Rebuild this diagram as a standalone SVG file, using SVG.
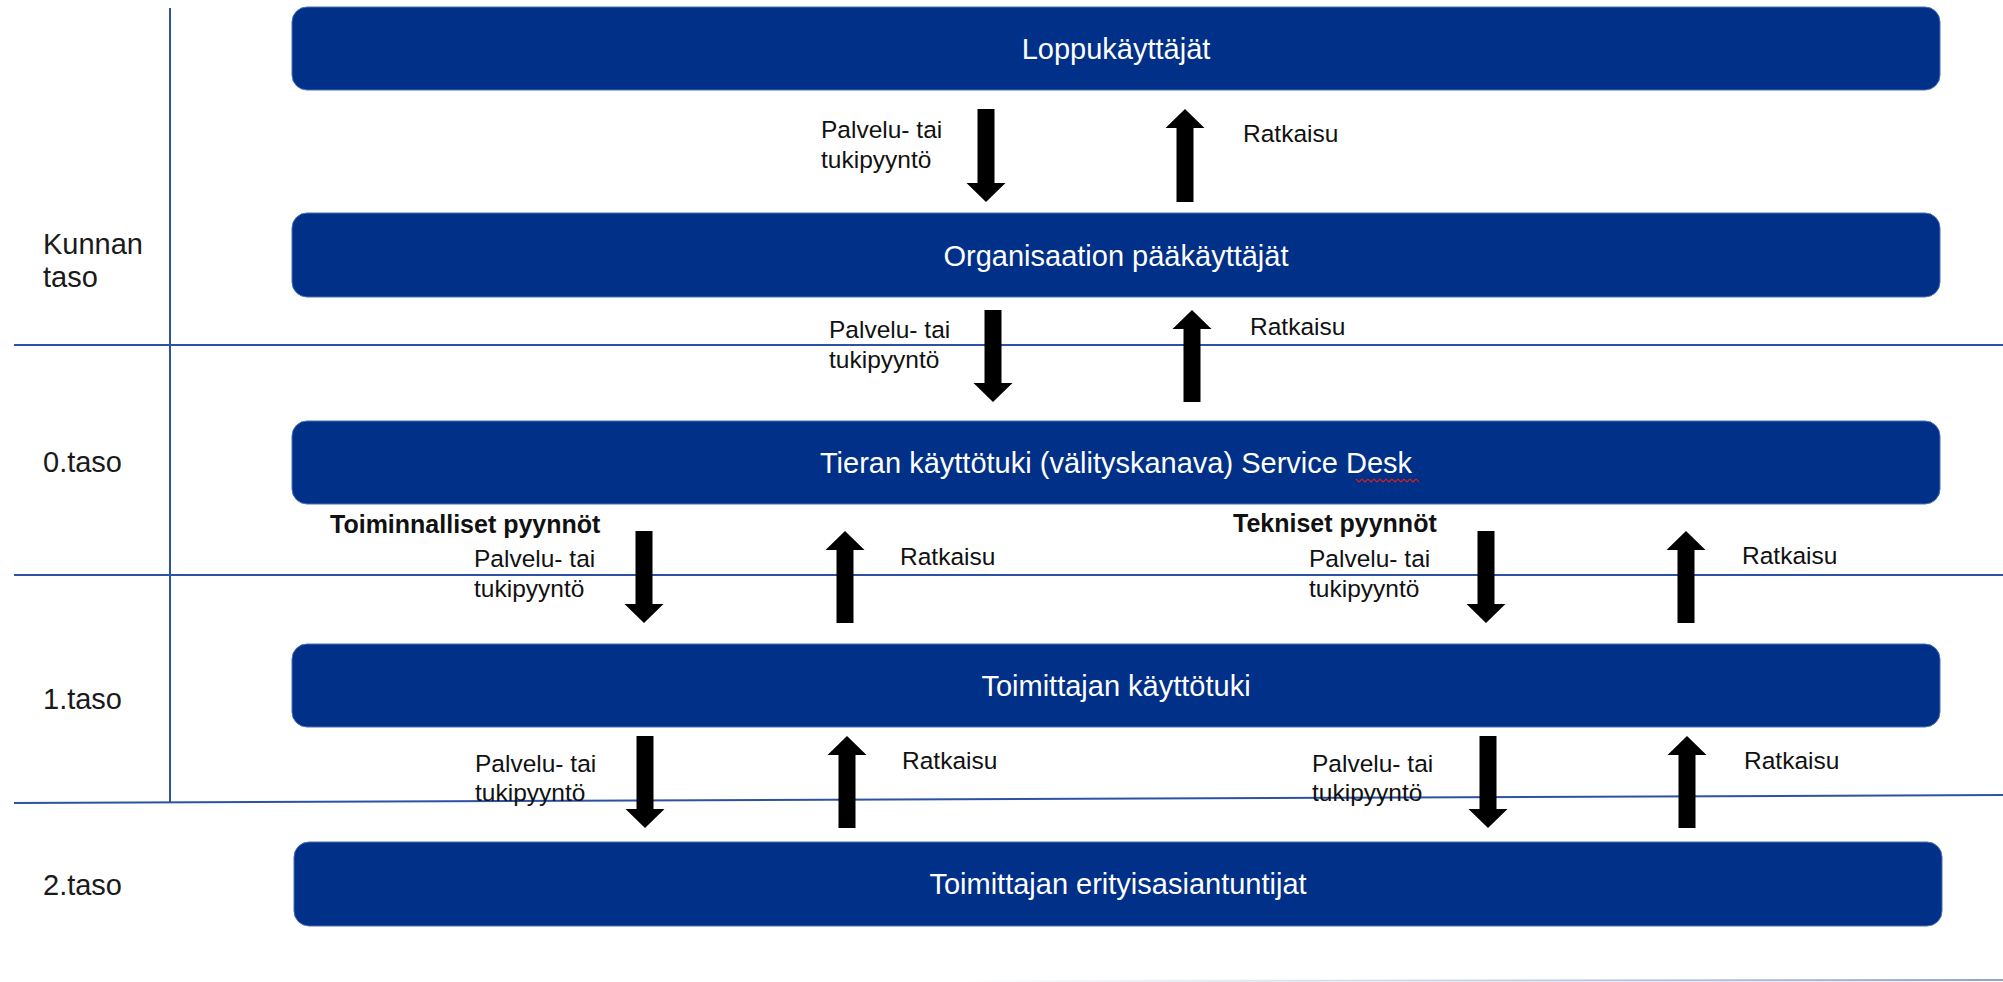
<svg xmlns="http://www.w3.org/2000/svg" width="2003" height="982" viewBox="0 0 2003 982">
<style>
.box{fill:#003087;stroke:#4a6fb5;stroke-width:1}
.bt{font-family:"Liberation Sans",Arial,sans-serif;font-size:29px;fill:#ffffff;text-anchor:middle}
.lv{font-family:"Liberation Sans",Arial,sans-serif;font-size:29px;fill:#1a1a1a}
.lb{font-family:"Liberation Sans",Arial,sans-serif;font-size:24.5px;fill:#111111}
.hd{font-family:"Liberation Sans",Arial,sans-serif;font-size:25px;font-weight:bold;fill:#111111}
.ln{stroke:#2e52a3;stroke-width:2;fill:none}
.arr{fill:#000000}
</style>
<defs>
<linearGradient id="fade" x1="0" y1="0" x2="1" y2="0">
<stop offset="0" stop-color="#ffffff"/>
<stop offset="1" stop-color="#8fa3cc"/>
</linearGradient>
</defs>
<g id="grid">
<line class="ln" x1="170" y1="8" x2="170" y2="803"/>
<line class="ln" x1="14" y1="345" x2="2003" y2="345"/>
<line class="ln" x1="14" y1="575" x2="2003" y2="575"/>
<line class="ln" x1="14" y1="803" x2="2003" y2="795"/>
<line x1="960" y1="981" x2="2003" y2="980" stroke="url(#fade)" stroke-width="2"/>
</g>
<g id="levels">
<text class="lv" x="43" y="254">Kunnan</text>
<text class="lv" x="43" y="287">taso</text>
<text class="lv" x="43" y="472">0.taso</text>
<text class="lv" x="43" y="709">1.taso</text>
<text class="lv" x="43" y="895">2.taso</text>
</g>
<g id="loppukayttajat">
<rect class="box" x="292" y="7" width="1648" height="83" rx="15"/>
<text class="bt" x="1116" y="59">Loppukäyttäjät</text>
</g>
<g id="paakayttajat">
<rect class="box" x="292" y="213" width="1648" height="84" rx="15"/>
<text class="bt" x="1116" y="266">Organisaation pääkäyttäjät</text>
</g>
<g id="servicedesk">
<rect class="box" x="292" y="421" width="1648" height="83" rx="15"/>
<text class="bt" x="1116" y="473">Tieran käyttötuki (välityskanava) Service Desk</text>
<path d="M1356,479 l3,3 l3,-3 l3,3 l3,-3 l3,3 l3,-3 l3,3 l3,-3 l3,3 l3,-3 l3,3 l3,-3 l3,3 l3,-3 l3,3 l3,-3 l3,3 l3,-3 l3,3 l3,-3 l3,3" fill="none" stroke="#d02020" stroke-width="1.2"/>
</g>
<g id="toimittajan-kayttotuki">
<rect class="box" x="292" y="644" width="1648" height="83" rx="15"/>
<text class="bt" x="1116" y="696">Toimittajan käyttötuki</text>
</g>
<g id="erityisasiantuntijat">
<rect class="box" x="294" y="842" width="1648" height="84" rx="15"/>
<text class="bt" x="1118" y="894">Toimittajan erityisasiantuntijat</text>
</g>
<g id="connectors">
<path class="arr" d="M977.5,109 H994.5 V183 H1005.5 L986,202 L966.5,183 H977.5 Z"/>
<path class="arr" d="M1185,109 L1204.5,128 H1193.5 V202 H1176.5 V128 H1165.5 Z"/>
<path class="arr" d="M984.5,310 H1001.5 V383 H1012.5 L993,402 L973.5,383 H984.5 Z"/>
<path class="arr" d="M1192,310 L1211.5,329 H1200.5 V402 H1183.5 V329 H1172.5 Z"/>
<path class="arr" d="M635.5,531 H652.5 V604 H663.5 L644,623 L624.5,604 H635.5 Z"/>
<path class="arr" d="M845,531 L864.5,550 H853.5 V623 H836.5 V550 H825.5 Z"/>
<path class="arr" d="M1477.5,531 H1494.5 V604 H1505.5 L1486,623 L1466.5,604 H1477.5 Z"/>
<path class="arr" d="M1686,531 L1705.5,550 H1694.5 V623 H1677.5 V550 H1666.5 Z"/>
<path class="arr" d="M636.5,736 H653.5 V809 H664.5 L645,828 L625.5,809 H636.5 Z"/>
<path class="arr" d="M847,736 L866.5,755 H855.5 V828 H838.5 V755 H827.5 Z"/>
<path class="arr" d="M1479.5,736 H1496.5 V809 H1507.5 L1488,828 L1468.5,809 H1479.5 Z"/>
<path class="arr" d="M1687,736 L1706.5,755 H1695.5 V828 H1678.5 V755 H1667.5 Z"/>
<text class="lb" x="821" y="138">Palvelu- tai</text>
<text class="lb" x="821" y="168">tukipyyntö</text>
<text class="lb" x="1243" y="142">Ratkaisu</text>
<text class="lb" x="829" y="338">Palvelu- tai</text>
<text class="lb" x="829" y="368">tukipyyntö</text>
<text class="lb" x="1250" y="335">Ratkaisu</text>
<text class="hd" x="330" y="533">Toiminnalliset pyynnöt</text>
<text class="lb" x="474" y="567">Palvelu- tai</text>
<text class="lb" x="474" y="597">tukipyyntö</text>
<text class="lb" x="900" y="565">Ratkaisu</text>
<text class="hd" x="1233" y="532">Tekniset pyynnöt</text>
<text class="lb" x="1309" y="567">Palvelu- tai</text>
<text class="lb" x="1309" y="597">tukipyyntö</text>
<text class="lb" x="1742" y="564">Ratkaisu</text>
<text class="lb" x="475" y="772">Palvelu- tai</text>
<text class="lb" x="475" y="801">tukipyyntö</text>
<text class="lb" x="902" y="769">Ratkaisu</text>
<text class="lb" x="1312" y="772">Palvelu- tai</text>
<text class="lb" x="1312" y="801">tukipyyntö</text>
<text class="lb" x="1744" y="769">Ratkaisu</text>
</g>
</svg>
